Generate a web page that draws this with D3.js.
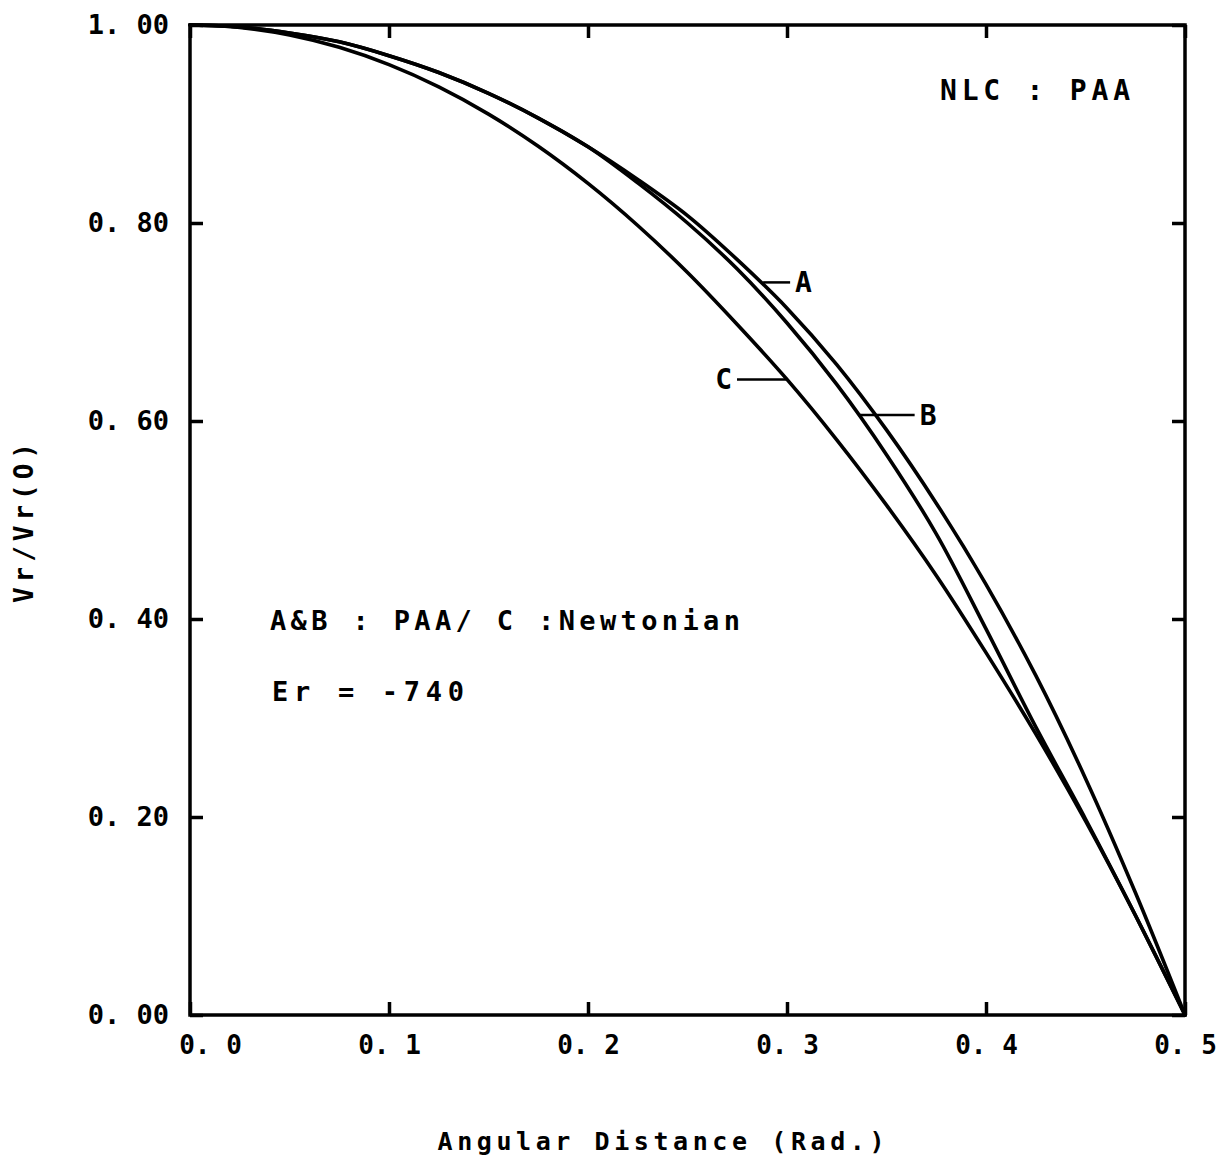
<!DOCTYPE html>
<html>
<head>
<meta charset="utf-8">
<script src="https://cdn.jsdelivr.net/npm/d3@7"></script>
<style>
  html, body { margin: 0; padding: 0; background: #fff; }
  svg { display: block; }
  text { font-family: "DejaVu Sans Mono", monospace; font-weight: bold; fill: #000; }
</style>
</head>
<body>
<svg id="chart" width="1229" height="1168"></svg>
<script>
// ---- data ----
const xTicks = [0, 0.1, 0.2, 0.3, 0.4, 0.5];
const xTickLabels = ["0. 0", "0. 1", "0. 2", "0. 3", "0. 4", "0. 5"];
const yTicks = [0, 0.2, 0.4, 0.6, 0.8, 1.0];
const yTickLabels = ["0. 00", "0. 20", "0. 40", "0. 60", "0. 80", "1. 00"];

const seriesNames = ["A", "B", "C"];

// angular distance (rad.)
const angle = [0, 0.025, 0.05, 0.075, 0.1, 0.125, 0.15, 0.175, 0.2, 0.225, 0.25,
               0.275, 0.3, 0.325, 0.35, 0.375, 0.4, 0.425, 0.45, 0.475, 0.5];
// Vr/Vr(0)
const seriesA = [1.000, 0.998, 0.992, 0.983, 0.969, 0.952, 0.931, 0.906, 0.877, 0.844, 0.8075,
                 0.763, 0.714, 0.657, 0.591, 0.517, 0.435, 0.343, 0.239, 0.124, 0.000];
const seriesB = [1.000, 0.998, 0.992, 0.983, 0.969, 0.952, 0.931, 0.906, 0.877, 0.8405, 0.800,
                 0.7535, 0.699, 0.637, 0.566, 0.486, 0.390, 0.291, 0.198, 0.101, 0.000];
const seriesC = [1.000, 0.9975, 0.990, 0.9775, 0.960, 0.9375, 0.910, 0.8775, 0.840, 0.7975, 0.750,
                 0.6975, 0.642, 0.581, 0.515, 0.444, 0.366, 0.284, 0.196, 0.101, 0.000];

// label pointers: curve point where the pointer starts
const labelA = { text: "A", x: 0.288, y: 0.740, len: 27, side: 1 };
const labelB = { text: "B", x: 0.336, y: 0.606, len: 56, side: 1 };
const labelC = { text: "C", x: 0.300, y: 0.642, len: 50, side: -1 };

const xTitle = "Angular Distance (Rad.)";
const yTitle = "Vr/Vr(O)";
const noteTop = "NLC : PAA";
const note1 = "A&B : PAA/ C :Newtonian";
const note2 = "Er = -740";

// ---- drawing ----
const svg = d3.select("#chart");
const pLeft = 190, pRight = 1185, pTop = 25, pBottom = 1015;
const x = d3.scaleLinear().domain([0, 0.5]).range([pLeft, pRight]);
const y = d3.scaleLinear().domain([0, 1]).range([pBottom, pTop]);

const tickLen = 13;

// axes (ticks inward)
const gB = svg.append("g").attr("transform", `translate(0,${pBottom})`)
  .call(d3.axisBottom(x).tickValues(xTicks).tickSize(-tickLen).tickPadding(21)
        .tickFormat((d, i) => xTickLabels[i]));
const gT = svg.append("g").attr("transform", `translate(0,${pTop})`)
  .call(d3.axisTop(x).tickValues(xTicks).tickSize(-tickLen).tickFormat(""));
const gL = svg.append("g").attr("transform", `translate(${pLeft},0)`)
  .call(d3.axisLeft(y).tickValues(yTicks).tickSize(-tickLen).tickPadding(21)
        .tickFormat((d, i) => yTickLabels[i]));
const gR = svg.append("g").attr("transform", `translate(${pRight},0)`)
  .call(d3.axisRight(y).tickValues(yTicks).tickSize(-tickLen).tickFormat(""));

[gB, gT, gL, gR].forEach(g => {
  g.select(".domain").remove();
  g.selectAll(".tick line").attr("stroke", "#000").attr("stroke-width", 3.5);
  g.selectAll("text").attr("font-size", 27).attr("font-family", "DejaVu Sans Mono")
    .attr("font-weight", "bold").attr("fill", "#000");
});
gB.selectAll("text").attr("font-size", 26);
// first x label sits to the right of the corner, as in the original
gB.selectAll(".tick").filter(d => d === 0).select("text").attr("dx", 20);

// frame
svg.append("rect")
  .attr("x", pLeft).attr("y", pTop)
  .attr("width", pRight - pLeft).attr("height", pBottom - pTop)
  .attr("fill", "none").attr("stroke", "#000").attr("stroke-width", 3.5);

// curves
const line = d3.line().x(d => x(d[0])).y(d => y(d[1])).curve(d3.curveCatmullRom.alpha(0.5));
const series = [seriesA, seriesB, seriesC].map(s => angle.map((a, i) => [a, s[i]]));
svg.append("g").selectAll("path").data(series).join("path")
  .attr("d", line)
  .attr("fill", "none").attr("stroke", "#000").attr("stroke-width", 3.6)
  .attr("stroke-linejoin", "round").attr("stroke-linecap", "round");

// labels with pointer lines
[labelA, labelB, labelC].forEach(L => {
  const px = x(L.x), py = y(L.y);
  const x2 = px + L.side * L.len;
  svg.append("line").attr("x1", px).attr("y1", py).attr("x2", x2).attr("y2", py)
    .attr("stroke", "#000").attr("stroke-width", 2.5);
  svg.append("text")
    .attr("x", L.side > 0 ? x2 + 5 : x2 - 5)
    .attr("y", py + 10)
    .attr("text-anchor", L.side > 0 ? "start" : "end")
    .attr("font-size", 28)
    .text(L.text);
});

// titles
svg.append("text")
  .attr("x", 661).attr("y", 1150)
  .attr("text-anchor", "middle")
  .attr("font-size", 25)
  .attr("textLength", 447).attr("lengthAdjust", "spacing")
  .text(xTitle);

svg.append("text")
  .attr("transform", "translate(33,523) rotate(-90)")
  .attr("text-anchor", "middle")
  .attr("font-size", 26)
  .attr("textLength", 160).attr("lengthAdjust", "spacing")
  .text(yTitle);

// notes
svg.append("text").attr("x", 940).attr("y", 100).attr("font-size", 28)
  .attr("textLength", 190).attr("lengthAdjust", "spacing").text(noteTop);
svg.append("text").attr("x", 270).attr("y", 630).attr("font-size", 27)
  .attr("textLength", 470).attr("lengthAdjust", "spacing").text(note1);
svg.append("text").attr("x", 272).attr("y", 701).attr("font-size", 27)
  .attr("textLength", 192).attr("lengthAdjust", "spacing").text(note2);
</script>
</body>
</html>
